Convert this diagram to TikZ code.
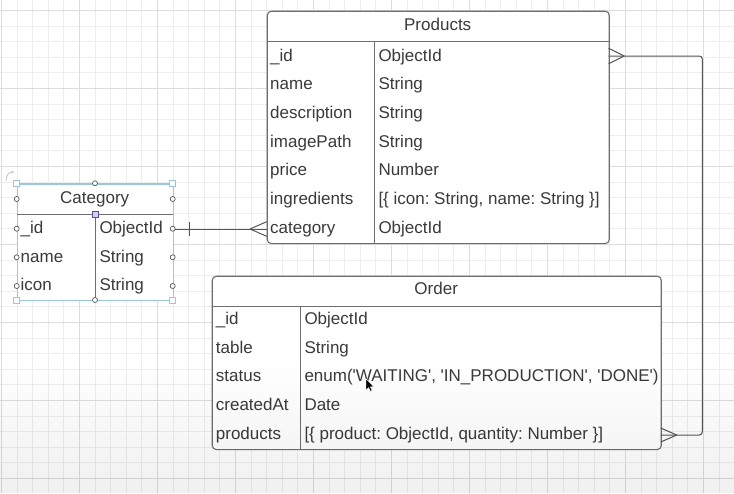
\documentclass[tikz,border=0pt]{standalone}
\usepackage{fontspec}
\setmainfont{Liberation Sans}[Ligatures=TeXOff]
\usetikzlibrary{calc,fadings,arrows.meta}
\frenchspacing
\definecolor{boxline}{HTML}{6E6E6E}
\definecolor{txtc}{HTML}{3A3A3A}
\definecolor{connc}{HTML}{555555}
\definecolor{selblue}{HTML}{98C8E8}
\definecolor{gridminor}{HTML}{EEEEEE}
\definecolor{gridmajor}{HTML}{DDDDDD}
\definecolor{hpurple}{HTML}{D4CCF2}
\definecolor{hpedge}{HTML}{5B4F99}
\tikzset{
  tbl/.style={draw=boxline, line width=1.1pt, fill=white, rounded corners=4pt, inner sep=0pt, anchor=north west},
  seltbl/.style={draw=selblue, line width=1.2pt, fill=white, inner sep=0pt, anchor=north west},
  inner/.style={draw=boxline, line width=1pt},
  fld/.style={inner sep=0pt, anchor=base west, text=txtc, font=\fontsize{17}{20}\selectfont\frenchspacing},
  hdr/.style={inner sep=0pt, anchor=base, text=txtc, font=\fontsize{17}{20}\selectfont},
  conn/.style={draw=connc, line width=1pt},
  hcirc/.style={circle, draw=connc, fill=white, line width=0.7pt, inner sep=0pt, minimum size=5pt},
  hsq/.style={rectangle, draw=selblue, fill=white, line width=0.8pt, inner sep=0pt, minimum size=6pt},
  hpsq/.style={rectangle, draw=hpedge, fill=hpurple, line width=0.8pt, inner sep=0pt, minimum size=6pt},
}
\begin{document}
\begin{tikzpicture}[x=1pt,y=-1pt]
\useasboundingbox (0,0) rectangle (734,493);
\fill[white] (0,0) rectangle (734,493);
% grid
\foreach \i in {0,...,47} \draw[gridminor, line width=0.8pt] ({1.3+15.6*\i},0) -- ({1.3+15.6*\i},493);
\foreach \i in {0,...,31} \draw[gridminor, line width=0.8pt] (0,{10.3+15.6*\i}) -- (734,{10.3+15.6*\i});
\foreach \i in {0,...,9} \draw[gridmajor, line width=0.8pt] ({1.3+78*\i},0) -- ({1.3+78*\i},493);
\foreach \i in {0,...,6} \draw[gridmajor, line width=0.8pt] (0,{10.3+78*\i}) -- (734,{10.3+78*\i});

% ---------- Products ----------
\node[tbl, minimum width=342pt, minimum height=232.3pt] (prod) at (266.7,10.7) {};
\draw[inner] (266.7,41.7) -- (608.7,41.7);
\draw[inner] (374.3,41.7) -- (374.3,243);
\node[hdr] (prodh) at (437.7,30) {Products};
\node[fld] (pk1) at (270,61) {\_id};          \node[fld] (pv1) at (378.3,61) {ObjectId};
\node[fld] (pk2) at (270,89.7) {name};        \node[fld] (pv2) at (378.3,89.7) {String};
\node[fld] (pk3) at (270,118.3) {description};\node[fld] (pv3) at (378.3,118.3) {String};
\node[fld] (pk4) at (270,147) {imagePath};    \node[fld] (pv4) at (378.3,147) {String};
\node[fld] (pk5) at (270,175.7) {price};      \node[fld] (pv5) at (378.3,175.7) {Number};
\node[fld] (pk6) at (270,204.3) {ingredients};\node[fld] (pv6) at (378.3,204.3) {[\{ icon: String, name: String \}]};
\node[fld] (pk7) at (270,233) {category};     \node[fld] (pv7) at (378.3,233) {ObjectId};

% ---------- Order ----------
\node[tbl, minimum width=449pt, minimum height=173.3pt] (ord) at (211.7,275.7) {};
\draw[inner] (211.7,306.7) -- (660.7,306.7);
\draw[inner] (300,306.7) -- (300,449);
\node[hdr] (ordh) at (436.2,294.3) {Order};
\node[fld] (ok1) at (215.7,324.3) {\_id};       \node[fld] (ov1) at (304.3,324.3) {ObjectId};
\node[fld] (ok2) at (215.7,353) {table};        \node[fld] (ov2) at (304.3,353) {String};
\node[fld] (ok3) at (215.7,381.8) {status};     \node[fld] (ov3) at (304.3,381.8) {enum('WAITING', 'IN\_PRODUCTION', 'DONE')};
\node[fld] (ok4) at (215.7,410.5) {createdAt};  \node[fld] (ov4) at (304.3,410.5) {Date};
\node[fld] (ok5) at (215.7,439.3) {products};   \node[fld] (ov5) at (304.3,439.3) {[\{ product: ObjectId, quantity: Number \}]};

% ---------- Category ----------
\node[seltbl, minimum width=156pt, minimum height=116.7pt] (cat) at (16.7,183.3) {};
\draw[inner] (16.7,214) -- (172.7,214);
\draw[inner] (95,214) -- (95,300);
\node[hdr] (cath) at (94.7,203.3) {Category};
\node[fld] (ck1) at (20.5,233.3) {\_id};   \node[fld] (cv1) at (99.3,233.3) {ObjectId};
\node[fld] (ck2) at (20.5,262) {name};     \node[fld] (cv2) at (99.3,262) {String};
\node[fld] (ck3) at (20.5,290.7) {icon};   \node[fld] (cv3) at (99.3,290.7) {String};

% ---------- connectors ----------
\coordinate (cid) at (172.7,229);
\coordinate (pcat) at (266.7,229);
\draw[conn] (cid) -- (pcat);
\draw[conn] ($(pcat)+(-16.7,0)$) -- ($(pcat)+(0,-7.3)$);
\draw[conn] ($(pcat)+(-16.7,0)$) -- ($(pcat)+(0,7.3)$);
\draw[conn] ($(cid)+(16.3,-7)$) -- ($(cid)+(16.3,7)$);

\coordinate (pid) at (608.7,56);
\coordinate (oprod) at (660.7,435);
\coordinate (pbend) at (702.3,56);
\coordinate (obend) at (702.3,435);
\draw[conn, rounded corners=3pt] (pid) -- (pbend) -- (obend) -- (oprod);
\draw[conn] ($(pid)+(15.6,0)$) -- ($(pid)+(0,-7.7)$);
\draw[conn] ($(pid)+(15.6,0)$) -- ($(pid)+(0,7.7)$);
\draw[conn] ($(oprod)+(16,0)$) -- ($(oprod)+(0,-7)$);
\draw[conn] ($(oprod)+(16,0)$) -- ($(oprod)+(0,7)$);

% ---------- selection handles ----------
\foreach \y [count=\j] in {199,228.7,257.3,286} {
  \node[hcirc] (hl\j) at (16.7,\y) {};
  \node[hcirc] (hr\j) at (172.7,\y) {};
}
\node[hcirc] (ht) at (95,183.3) {};
\node[hcirc] (hb) at (95,300) {};
\node[hsq] (s1) at (16.7,183.3) {};
\node[hsq] (s2) at (172.7,183.3) {};
\node[hsq] (s3) at (16.7,300) {};
\node[hsq] (s4) at (172.7,300) {};
\node[hpsq] (sp) at (95,214) {};
\draw[gray!45, line width=0.8pt, -{Stealth[length=2.5pt,width=2.5pt]}] (6,181) .. controls (6,175) and (9,172) .. (14,172);

% ---------- cursor ----------
\fill[black, draw=white, line width=0.4pt] (366,379) -- (366,390) -- (368.6,387.6) -- (370.5,391.3) -- (372.2,390.5) -- (370.3,386.9) -- (373.8,386.6) -- cycle;

% ---------- bottom shade ----------
\fill[black, opacity=0.06, path fading=north] (0,360) rectangle (734,493);
\end{tikzpicture}
\end{document}
